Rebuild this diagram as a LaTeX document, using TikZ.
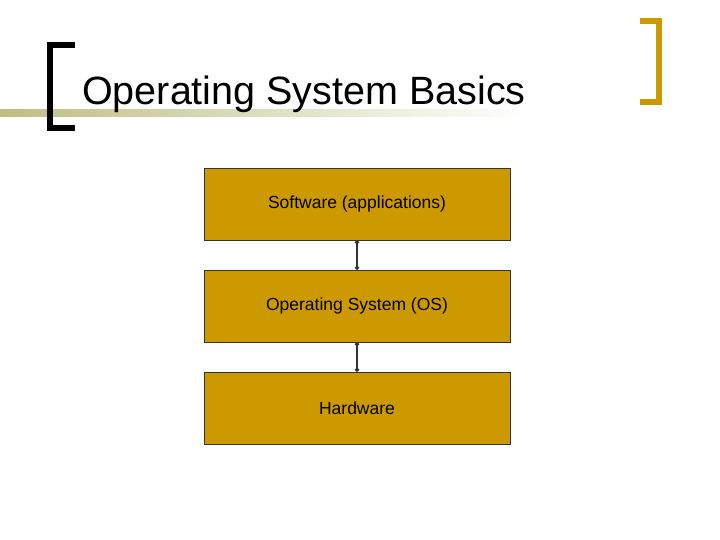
\documentclass[tikz,border=0pt]{standalone}
\usepackage{fontspec}
\setmainfont{Liberation Sans}
\usetikzlibrary{positioning}
\usetikzlibrary{arrows.meta}
\definecolor{gold}{RGB}{204,153,0}
\definecolor{olive}{RGB}{190,190,130}
\tikzset{layer/.style={draw=black!80, fill=gold, minimum width=306pt, minimum height=72pt, inner sep=0pt, font=\fontsize{17.5pt}{20pt}\selectfont},
  link/.style={line width=1.6pt, black!80, {Circle[length=4pt]}-{Circle[length=4pt]}}}
\begin{document}
\begin{tikzpicture}[x=1pt,y=-1pt]
\useasboundingbox (0,0) rectangle (720,540);
\shade[left color=olive, right color=white] (0,110) rectangle (530,117);
\draw[line width=6pt] (75,45) -- (50,45) -- (50,128) -- (75,128);
\draw[gold, line width=6pt] (640,21) -- (659,21) -- (659,102) -- (640,102);
\node[anchor=base west, inner sep=0pt, font=\fontsize{39.5pt}{44pt}\selectfont] (title) at (82,105) {Operating System Basics};
\node[layer] (app) at (357,204) {Software (applications)};
\node[layer] (os) at (357,306) {Operating System (OS)};
\node[layer] (hw) at (357,408) {Hardware};
\draw[link] (app.south) -- (os.north);
\draw[link] (os.south) -- (hw.north);
\end{tikzpicture}
\end{document}
